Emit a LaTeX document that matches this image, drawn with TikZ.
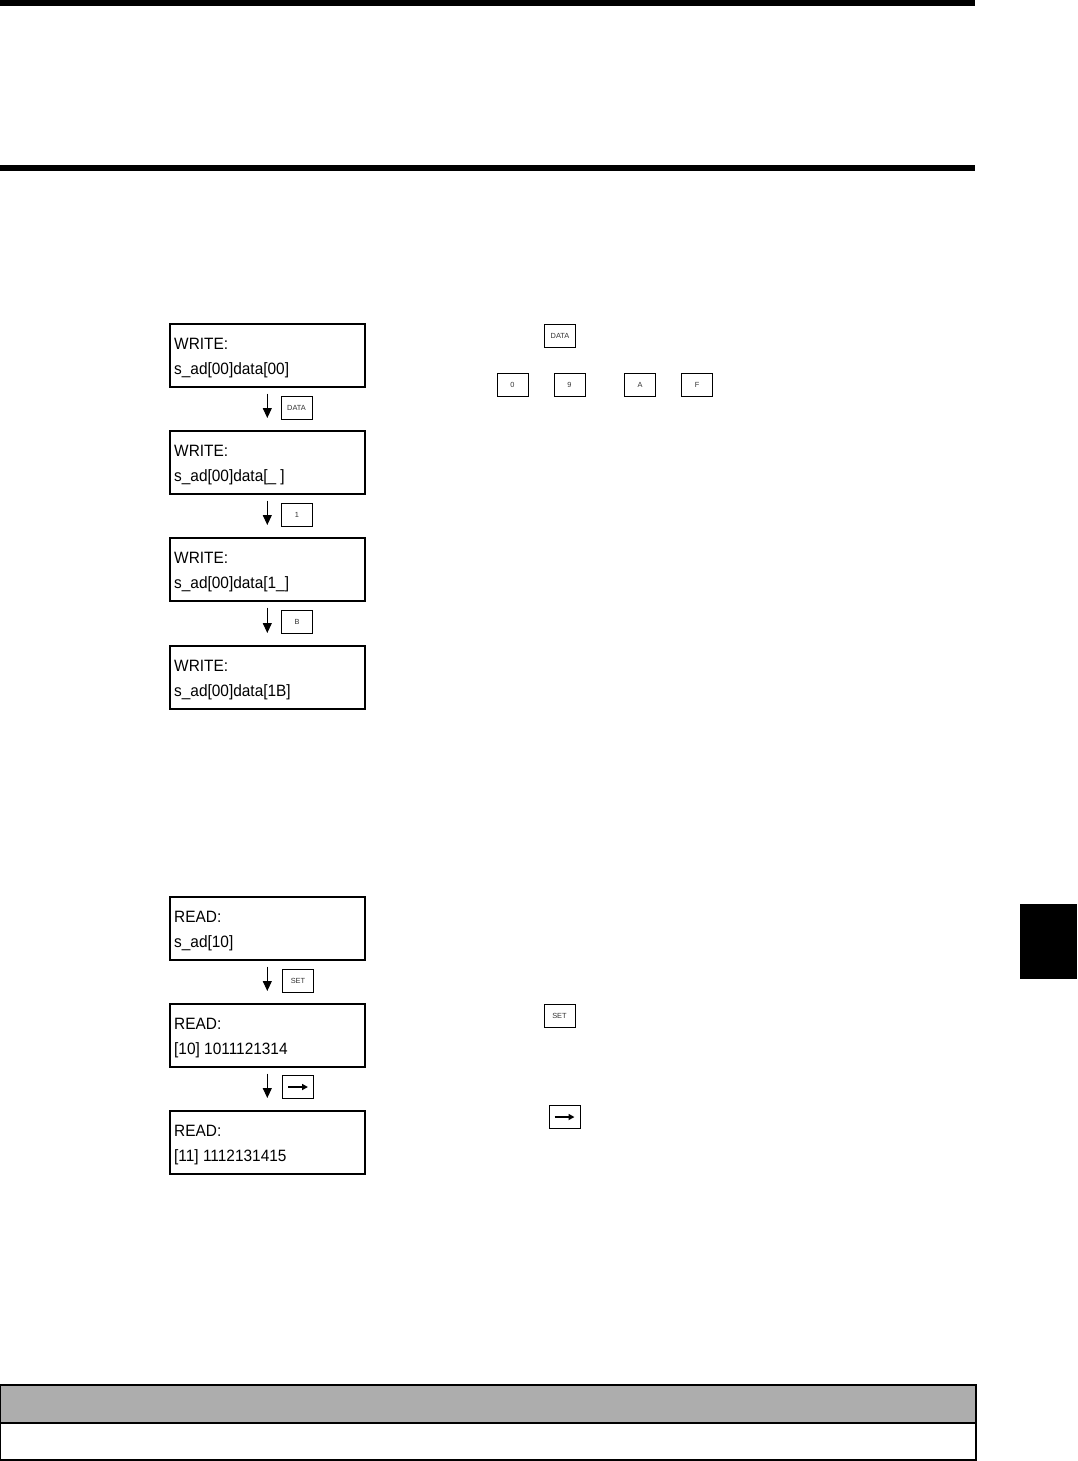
\documentclass[tikz,border=0pt]{standalone}
\usepackage{fontspec}
\setmainfont{Liberation Sans}
\newfontfamily\lcdfont[FakeStretch=0.94]{Liberation Sans}
\usetikzlibrary{arrows.meta}
\begin{document}
\begin{tikzpicture}[x=1bp,y=-1bp,
 lcd/.style={draw, line width=1.6bp, minimum width=195bp, minimum height=63bp, inner sep=0, anchor=north west},
 lcdtxt/.style={anchor=base west, inner sep=0, font=\lcdfont\fontsize{16.4bp}{20bp}\selectfont},
 keybox/.style={draw, line width=0.8bp, minimum width=31bp, minimum height=23bp, inner sep=0, font=\fontsize{7.4bp}{8bp}\selectfont, text=black!80},
 flow/.style={line width=1.1bp, -{Triangle[width=9bp,length=10bp]}, shorten <=6bp, shorten >=12bp}]
\useasboundingbox (0,0) rectangle (1077,1461);
% header bars
\fill[black] (0,0) rectangle (975,6);
\fill[black] (0,165) rectangle (975,171);
% side tab
\fill[black] (1020,904) rectangle (1077,979);
% bottom table
\fill[black!32] (0,1385) rectangle (976,1423);
\draw[line width=1.4bp] (0,1385) rectangle (976,1460);
\draw[line width=1.4bp] (0,1423) -- (976,1423);

% WRITE sequence
\node[lcd] (w1) at (169,323) {};
\node[lcd] (w2) at (169,430) {};
\node[lcd] (w3) at (169,537) {};
\node[lcd] (w4) at (169,645) {};
\node[lcdtxt] (w1a) at (174,349) {WRITE:};
\node[lcdtxt] (w1b) at (174,374) {s\_ad[00]data[00]};
\node[lcdtxt] (w2a) at (174,456) {WRITE:};
\node[lcdtxt] (w2b) at (174,481) {s\_ad[00]data[\_ ]};
\node[lcdtxt] (w3a) at (174,563) {WRITE:};
\node[lcdtxt] (w3b) at (174,588) {s\_ad[00]data[1\_]};
\node[lcdtxt] (w4a) at (174,671) {WRITE:};
\node[lcdtxt] (w4b) at (174,696) {s\_ad[00]data[1B]};
\draw[flow] (w1.south) -- (w2.north);
\draw[flow] (w2.south) -- (w3.north);
\draw[flow] (w3.south) -- (w4.north);
\node[keybox] (kdata) at (296.5,408) {DATA};
\node[keybox] (k1) at (297,515) {1};
\node[keybox] (kB) at (297,622) {B};

% right column keys
\node[keybox] (rdata) at (560,335.5) {DATA};
\node[keybox] (r0) at (512.5,384.5) {0};
\node[keybox] (r9) at (569.5,384.5) {9};
\node[keybox] (rA) at (640,384.5) {A};
\node[keybox] (rF) at (697,384.5) {F};

% READ sequence
\node[lcd] (r1) at (169,896) {};
\node[lcd] (r2) at (169,1003) {};
\node[lcd] (r3) at (169,1110) {};
\node[lcdtxt] (r1a) at (174,922) {READ:};
\node[lcdtxt] (r1b) at (174,947) {s\_ad[10]};
\node[lcdtxt] (r2a) at (174,1029) {READ:};
\node[lcdtxt] (r2b) at (174,1054) {[10] 1011121314};
\node[lcdtxt] (r3a) at (174,1136) {READ:};
\node[lcdtxt] (r3b) at (174,1161) {[11] 1112131415};
\draw[flow] (r1.south) -- (r2.north);
\draw[flow] (r2.south) -- (r3.north);
\node[keybox] (kset) at (298,981) {SET};
\node[keybox] (karr) at (298,1087) {};
\coordinate (ka1) at (288,1087);
\coordinate (ka2) at (308,1087);
\draw[line width=1.6bp, -{Triangle[width=6bp,length=6bp]}] (ka1) -- (ka2);

\node[keybox] (rset) at (559.5,1016) {SET};
\node[keybox] (rarr) at (564.5,1117) {};
\coordinate (ra1) at (554.5,1117);
\coordinate (ra2) at (574.5,1117);
\draw[line width=1.6bp, -{Triangle[width=6bp,length=6bp]}] (ra1) -- (ra2);
\end{tikzpicture}
\end{document}
